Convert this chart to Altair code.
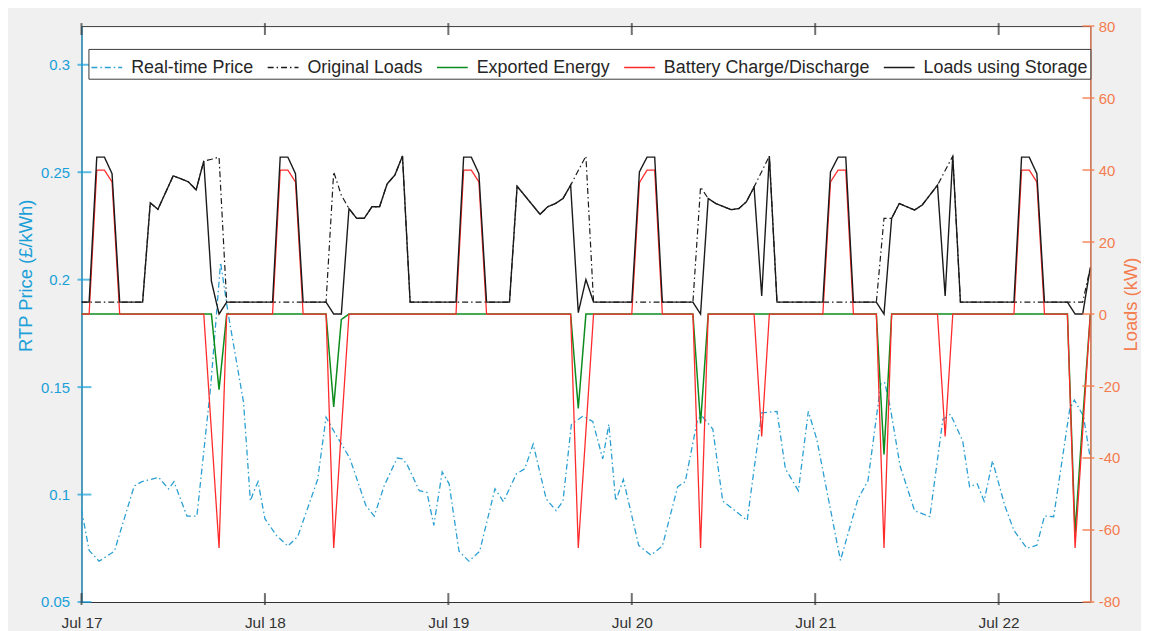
import altair as alt
import pandas as pd

# ---------------- data ----------------
SERIES = ["Real-time Price", "Original Loads", "Exported Energy",
          "Battery Charge/Discharge", "Loads using Storage"]

# hours after Jul 17 00:00
PRICE_H = [0, 1.0, 2.3, 4.3, 6.9, 7.9, 10.1, 11.4, 12.1, 13.8, 15.1, 16.9, 18.2, 19.2,
           21.2, 22.1, 22.5, 23.1, 24.0, 25.5, 27.0, 28.3, 30.9, 32.0, 33.1, 35.1, 37.2,
           38.3, 39.6, 41.3, 42.0, 42.6, 44.2, 45.2, 46.1, 47.2, 48.1, 49.4, 50.7, 52.1,
           54.1, 55.2, 56.9, 58.0, 59.1, 60.8, 62.1, 63.0, 64.1, 65.6, 66.9, 68.2, 69.0,
           69.9, 70.9, 72.9, 74.5, 76.0, 78.0, 79.0, 80.6, 81.2, 82.6, 83.9, 87.1, 89.0,
           91.0, 92.1, 93.8, 95.1, 96.2, 99.3, 101.6, 102.9, 104.6, 105.1, 105.8, 107.1,
           109.0, 111.0, 112.7, 113.7, 115.3, 116.2, 117.2, 118.1, 119.2, 120.8, 122.0,
           123.7, 125.0, 126.0, 127.2, 129.3, 129.9, 131.1, 132.0]
PRICE_V = [0.093, 0.074, 0.069, 0.0736, 0.104, 0.106, 0.108, 0.1026, 0.106, 0.090, 0.090,
           0.150, 0.208, 0.184, 0.143, 0.097, 0.101, 0.106, 0.0888, 0.081, 0.076, 0.0805,
           0.107, 0.136, 0.129, 0.117, 0.095, 0.090, 0.104, 0.117, 0.1166, 0.114, 0.1018,
           0.101, 0.0857, 0.1105, 0.105, 0.0736, 0.069, 0.0736, 0.1027, 0.0967, 0.1096,
           0.112, 0.1235, 0.098, 0.0925, 0.097, 0.1327, 0.1365, 0.134, 0.1166, 0.1327,
           0.097, 0.107, 0.0764, 0.0718, 0.076, 0.1036, 0.106, 0.135, 0.1365, 0.1305,
           0.097, 0.088, 0.138, 0.1387, 0.112, 0.1018, 0.1387, 0.1258, 0.0694, 0.098,
           0.1064, 0.152, 0.152, 0.141, 0.1134, 0.0925, 0.0897, 0.135, 0.1374, 0.1249,
           0.1036, 0.105, 0.097, 0.1157, 0.0949, 0.0833, 0.075, 0.0764, 0.090, 0.0897,
           0.1397, 0.144, 0.1365, 0.1166]

ORIGINAL_H = [0, 8, 9, 10, 12, 13, 14, 15, 16, 17, 18, 19,
              32, 33, 34, 35, 36, 37, 38, 39, 40, 41, 42, 43,
              56, 57, 60, 61, 62, 63, 64, 66, 67,
              80, 81, 82, 83, 85, 86, 87, 88, 90, 91,
              104, 105, 106, 107, 109, 110, 112, 114, 115,
              131, 132]
ORIGINAL_V = [3.3, 3.3, 30.9, 29.1, 38.4, 37.6, 36.7, 34.5, 42.5, 43.0, 43.6, 3.3,
              3.3, 39.5, 33.0, 29.3, 26.6, 26.6, 29.8, 29.8, 36.2, 38.6, 43.9, 3.3,
              3.3, 35.5, 27.7, 29.8, 30.7, 32.1, 35.8, 43.9, 3.3,
              3.3, 35.3, 32.1, 30.7, 29.0, 29.3, 31.2, 35.3, 43.9, 3.3,
              3.3, 26.6, 26.6, 30.7, 28.9, 30.3, 35.8, 43.9, 3.3,
              3.3, 13.0]

EXPORT_H = [0, 17, 18, 19, 32, 33, 34, 35, 64, 65, 66, 80, 81, 82,
            104, 105, 106, 129, 130, 131, 132]
EXPORT_V = [0, 0, -21.0, 0, 0, -25.8, -1.5, 0, 0, -26.2, 0, 0, -30.4, 0,
            0, -39.0, 0, 0, -61.0, -29.2, 0]

BATTERY_H = [0, 1, 2, 3, 4, 5, 16, 17, 18, 19, 25, 26, 27, 28, 29, 32, 33, 34, 35,
             49, 50, 51, 52, 53, 64, 65, 66, 67, 72, 73, 74, 75, 76, 80, 81, 82,
             88, 89, 90, 97, 98, 99, 100, 101, 104, 105, 106, 112, 113, 114,
             122, 123, 124, 125, 126, 129, 130, 131, 132]
BATTERY_V = [0, 0, 40, 40, 36.7, 0, 0, -32.5, -65, 0, 0, 40, 40, 36.7, 0, 0, -65, -32.5, 0,
             0, 40, 40, 36.7, 0, 0, -65, -32.5, 0, 0, 36.5, 40, 40, 0, 0, -65, 0,
             0, -34, 0, 0, 36.7, 40, 40, 0, 0, -65, 0, 0, -34, 0,
             0, 40, 40, 36.7, 0, 0, -65, -32.5, 0]

STORAGE_H = [0, 1, 2, 3, 4, 5, 8, 9, 10, 12, 13, 14, 15, 16, 17, 18, 19,
             25, 26, 27, 28, 29, 32, 33, 34, 35, 36, 37, 38, 39, 40, 41, 42, 43,
             49, 50, 51, 52, 53, 56, 57, 60, 61, 62, 63, 64, 65, 66, 67,
             72, 73, 74, 75, 76, 80, 81, 82, 83, 85, 86, 87, 88, 89, 90, 91,
             97, 98, 99, 100, 101, 104, 105, 106, 107, 109, 110, 112, 113, 114, 115,
             122, 123, 124, 125, 126, 129, 130, 131, 132]
STORAGE_V = [3.3, 3.3, 43.6, 43.6, 39.0, 3.3, 3.3, 30.9, 29.1, 38.4, 37.6, 36.7, 34.5, 42.5, 9.1, 0, 3.3,
             3.3, 43.6, 43.6, 39.0, 3.3, 3.3, 0, 0, 29.3, 26.6, 26.6, 29.8, 29.8, 36.2, 38.6, 43.9, 3.3,
             3.3, 43.6, 43.6, 39.0, 3.3, 3.3, 35.5, 27.7, 29.8, 30.7, 32.1, 35.8, 0.4, 9.6, 3.3,
             3.3, 39.5, 43.6, 43.6, 3.3, 3.3, 0, 32.1, 30.7, 29.0, 29.3, 31.2, 35.3, 5.0, 43.9, 3.3,
             3.3, 39.5, 43.6, 43.6, 3.3, 3.3, 0, 26.6, 30.7, 28.9, 30.3, 35.8, 5.0, 43.9, 3.3,
             3.3, 43.6, 43.6, 39.0, 3.3, 3.3, 0, 0, 13.0]

X_TICK_DAYS = [17, 18, 19, 20, 21, 22]
LEFT_TICKS = [0.05, 0.1, 0.15, 0.2, 0.25, 0.3]
RIGHT_TICKS = [-80, -60, -40, -20, 0, 20, 40, 60, 80]

# ---------------- styling ----------------
BLUE = "#1a9fd8"
ORANGE = "#f47d4f"
AXIS_GREY = "#333333"
COLORS = ["#2a9fd2", "#1a1a1a", "#0b8c1c", "#ff2b2b", "#1a1a1a"]
DASHES = [[6, 3, 1.5, 3], [6, 3, 1.5, 3], [1, 0], [1, 0], [1, 0]]
W, H = 1016, 580
FONT = "Liberation Sans"

START = pd.Timestamp("2017-07-17 00:00")


def frame(hours, values, name):
    return pd.DataFrame({
        "time": START + pd.to_timedelta(hours, unit="h"),
        "value": values,
        "series": name,
    })


legend = alt.Legend(
    title=None, orient="none", legendX=7, legendY=23, direction="horizontal",
    fillColor="white", strokeColor="#3a3a3a", padding=2,
    labelFontSize=18, labelColor="#262626", labelFont=FONT, labelLimit=600,
    symbolType="stroke", symbolSize=961, symbolStrokeWidth=1.5,
    columnPadding=10.5, labelOffset=8,
)
color = alt.Color("series:N", scale=alt.Scale(domain=SERIES, range=COLORS), legend=legend)
dash = alt.StrokeDash("series:N", scale=alt.Scale(domain=SERIES, range=DASHES), legend=legend)

x_axis = alt.Axis(
    values=[alt.DateTime(year=2017, month=7, date=d) for d in X_TICK_DAYS],
    format="%b %d", title=None, labelFontSize=15.5, labelColor="#333333",
    labelFont=FONT, labelPadding=14, labelFlush=False, labelOverlap=False,
    ticks=False, tickSize=0, grid=False, domainColor=AXIS_GREY,
)
x_scale = alt.Scale(domain=[alt.DateTime(year=2017, month=7, date=17),
                            alt.DateTime(year=2017, month=7, date=22, hours=12)])
x_enc = alt.X("time:T", scale=x_scale, axis=x_axis)

left_scale = alt.Scale(domain=[0.05, 0.318], nice=False, zero=False)
right_scale = alt.Scale(domain=[-80, 80], nice=False, zero=False)

left_axis = alt.Axis(
    orient="left", values=LEFT_TICKS, format="~g",
    title="RTP Price (£/kWh)", titleColor=BLUE, titleFontSize=18.5,
    titleFontWeight="normal", titleFont=FONT, titleAngle=270,
    titleX=-50, titleY=251, titleAlign="center", titleBaseline="alphabetic",
    labelColor=BLUE, labelFontSize=15, labelFont=FONT, labelPadding=12,
    domainColor=BLUE, domainWidth=1.2, ticks=False, tickSize=0, grid=False,
)
right_axis = alt.Axis(
    orient="right", values=RIGHT_TICKS, labelExpr="'' + datum.value",
    title="Loads (kW)", titleColor=ORANGE, titleFontSize=18.5,
    titleFontWeight="normal", titleFont=FONT, titleAngle=270,
    titleX=46, titleY=280, titleAlign="center", titleBaseline="alphabetic",
    labelColor=ORANGE, labelFontSize=15, labelFont=FONT, labelPadding=8,
    domainColor=ORANGE, domainWidth=1.2, ticks=False, tickSize=0, grid=False,
)

# ---------------- left (price) group ----------------
price = alt.Chart(frame(PRICE_H, PRICE_V, SERIES[0])).mark_line(
    strokeWidth=1.3, clip=True
).encode(x=x_enc, y=alt.Y("value:Q", scale=left_scale, axis=left_axis),
         color=color, strokeDash=dash)

# tick marks at the frame edges, mostly pointing into the plot (MATLAB style)
left_ticks = alt.Chart(pd.DataFrame({"value": LEFT_TICKS})).mark_tick(
    color=BLUE, thickness=2, size=14, orient="horizontal"
).encode(y=alt.Y("value:Q", scale=left_scale, axis=left_axis), x=alt.value(3))

xt_df = pd.DataFrame({"time": [START + pd.Timedelta(days=d - 17) for d in X_TICK_DAYS]})
x_ticks_bottom = alt.Chart(xt_df).mark_tick(
    color=AXIS_GREY, thickness=2, size=12, orient="vertical"
).encode(x=x_enc, y=alt.value(H - 3))
x_ticks_top = alt.Chart(xt_df).mark_tick(
    color=AXIS_GREY, thickness=2, size=12, orient="vertical"
).encode(x=x_enc, y=alt.value(3))

left_group = alt.layer(price, left_ticks, x_ticks_bottom, x_ticks_top)

# ---------------- right (loads) group ----------------
def load_layer(hours, values, name, width):
    return alt.Chart(frame(hours, values, name)).mark_line(
        strokeWidth=width, clip=True
    ).encode(x=x_enc, y=alt.Y("value:Q", scale=right_scale, axis=right_axis),
             color=color, strokeDash=dash)


original = load_layer(ORIGINAL_H, ORIGINAL_V, SERIES[1], 1.2)
exported = load_layer(EXPORT_H, EXPORT_V, SERIES[2], 1.5)
battery = load_layer(BATTERY_H, BATTERY_V, SERIES[3], 1.3)
storage = load_layer(STORAGE_H, STORAGE_V, SERIES[4], 1.4)

right_ticks = alt.Chart(pd.DataFrame({"value": RIGHT_TICKS})).mark_tick(
    color=ORANGE, thickness=2, size=12, orient="horizontal"
).encode(y=alt.Y("value:Q", scale=right_scale, axis=right_axis), x=alt.value(W - 2))

right_group = alt.layer(original, exported, battery, storage, right_ticks)

chart = alt.layer(left_group, right_group).resolve_scale(y="independent").properties(
    width=W, height=H,
    autosize=alt.AutoSizeParams(type="none"),
    padding={"left": 74, "top": 16, "right": 51, "bottom": 30},
).configure(
    background="#f0f0f0", font=FONT,
).configure_view(
    fill="white", stroke="#3a3a3a", strokeWidth=1,
)

chart.save("out.html", embed_options={"renderer": "svg", "actions": False})
